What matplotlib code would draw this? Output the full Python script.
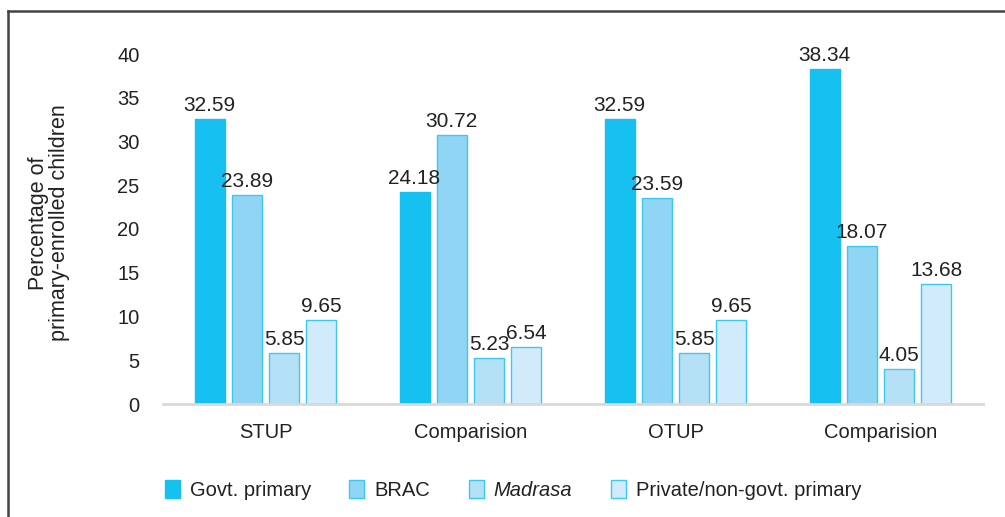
import matplotlib.pyplot as plt
import numpy as np
from matplotlib.lines import Line2D

plt.rcParams['font.family'] = ['Liberation Sans', 'DejaVu Sans']

groups = ["STUP", "Comparision", "OTUP", "Comparision"]
series = ["Govt. primary", "BRAC", "Madrasa", "Private/non-govt. primary"]
govt = [32.59, 24.18, 32.59, 38.34]
brac = [23.89, 30.72, 23.59, 18.07]
madrasa = [5.85, 5.23, 5.85, 4.05]
private = [9.65, 6.54, 9.65, 13.68]

colors = ["#16C0F0", "#90D5F4", "#B5E1F6", "#D1EBFB"]
edges = ["#16C0F0", "#3CC8F0", "#3CC8F0", "#3CC8F0"]
txt = "#222222"

fig = plt.figure(figsize=(10.05, 5.17), dpi=100)
ax = fig.add_axes([163 / 1005, 1 - 404 / 517, 820 / 1005, 350 / 517])

x = np.arange(len(groups))
width = 30 / 205
step = 37.3 / 205
values = [govt, brac, madrasa, private]
for i, (vals, name) in enumerate(zip(values, series)):
    pos = x + (i - 1.5) * step
    ax.bar(pos, vals, width, color=colors[i], edgecolor=edges[i],
           linewidth=1, label=name)
    for px, v in zip(pos, vals):
        ax.text(px, v + 0.45, f"{v:.2f}", ha='center', va='bottom',
                fontsize=15, color=txt)

ax.set_xlim(-0.5, 3.5)
ax.set_ylim(0, 40)
ax.set_yticks(np.arange(0, 41, 5))
ax.set_xticks(x)
ax.set_xticklabels(groups, fontsize=14.5, color=txt)
ax.tick_params(axis='y', length=0, pad=17, labelsize=14.5, labelcolor=txt)
ax.tick_params(axis='x', length=0, pad=14)
for s in ["top", "right", "left"]:
    ax.spines[s].set_visible(False)
ax.spines["bottom"].set_color("#D9D9D9")
ax.spines["bottom"].set_linewidth(2)

fig.text(49 / 1005, 1 - 223 / 517, "Percentage of\nprimary-enrolled children",
         rotation=90, ha='center', va='center', fontsize=15.5, color=txt,
         linespacing=1.0)

leg = fig.legend(loc='center', bbox_to_anchor=(513 / 1005, 1 - 490 / 517),
                 ncol=4, frameon=False, fontsize=14.5, handlelength=0.75,
                 handleheight=1.0, handletextpad=0.5, columnspacing=1.9)
for t in leg.get_texts():
    t.set_color(txt)
    if t.get_text() == "Madrasa":
        t.set_style('italic')

# outer frame (top and left edges visible)
fig.add_artist(Line2D([8 / 1005, 1.0], [1 - 11 / 517, 1 - 11 / 517],
                      transform=fig.transFigure, color="#444444", linewidth=1.8))
fig.add_artist(Line2D([8 / 1005, 8 / 1005], [0, 1 - 11 / 517],
                      transform=fig.transFigure, color="#444444", linewidth=1.8))

fig.savefig("out.png", dpi=100)
